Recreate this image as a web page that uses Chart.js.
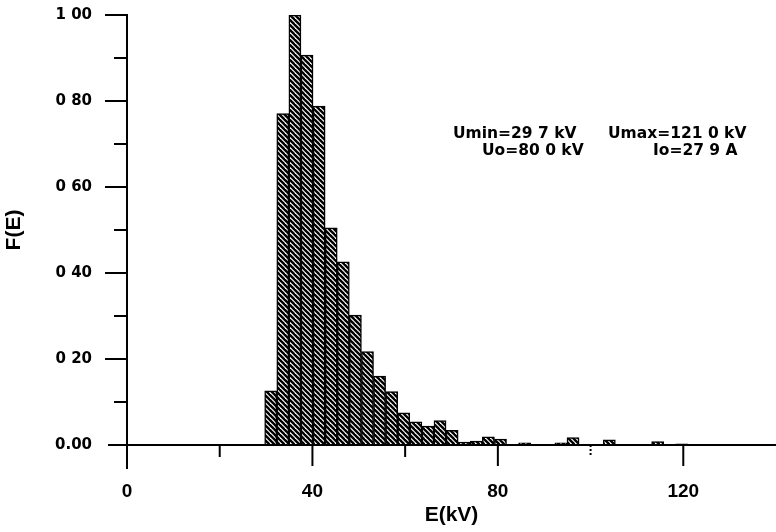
<!DOCTYPE html>
<html>
<head>
<meta charset="utf-8">
<script src="https://cdn.jsdelivr.net/npm/chart.js@4/dist/chart.umd.min.js"></script>
<style>
  html, body { margin: 0; padding: 0; background: #fff; }
  #wrap { width: 776px; height: 532px; }
</style>
</head>
<body>
<div id="wrap"><canvas id="c" width="776" height="532"></canvas></div>
<script>
// Pulse-energy histogram: bins span the lowest to the highest recorded voltage
const U_MIN = 29.7;   // kV
const U_MAX = 121.0;  // kV

// Relative frequency F(E) of each bin, lowest energy first
const frequency = [
  0.126, 0.771, 1.000, 0.907, 0.788, 0.505, 0.426, 0.302, 0.217, 0.160,
  0.124, 0.075, 0.054, 0.044, 0.057, 0.034, 0.007, 0.009, 0.019, 0.014,
  0.000, 0.005, 0.000, 0.000, 0.005, 0.017, 0.000, 0.000, 0.012, 0.000,
  0.000, 0.000, 0.008, 0.000, 0.003
];

// Axis labelling
const xTickValues = [0, 40, 80, 120];
const xTickLabels = ['0', '40', '80', '120'];
const yTickLabels = ['0.00', '0 20', '0 40', '0 60', '0 80', '1 00'];

// Run parameters printed in the plot
const infoLines = [
  { text: 'Umin=29 7 kV',  x: 453, y: 134 },
  { text: 'Umax=121 0 kV', x: 608, y: 134 },
  { text: 'Uo=80 0 kV',    x: 482, y: 151 },
  { text: 'Io=27 9 A',     x: 653, y: 151 }
];

const binWidth = (U_MAX - U_MIN) / frequency.length;
const binCenters = frequency.map((_, i) => U_MIN + (i + 0.5) * binWidth);

const canvas = document.getElementById('c');
const ctx = canvas.getContext('2d');

// Diagonal "\" hatching used to fill the bars
function makeHatch() {
  const s = 5;
  const tile = document.createElement('canvas');
  tile.width = s; tile.height = s;
  const g = tile.getContext('2d');
  g.fillStyle = '#fff';
  g.fillRect(0, 0, s, s);
  g.strokeStyle = '#000';
  g.lineWidth = 2.4;
  for (const k of [-1, 0, 1]) {
    g.beginPath();
    g.moveTo(k * s - 1, -1);
    g.lineTo(k * s + s + 1, s + 1);
    g.stroke();
  }
  return ctx.createPattern(tile, 'repeat');
}

// Axis lines with long/short tick marks
const axesPlugin = {
  id: 'plotterAxes',
  afterDatasetsDraw(chart) {
    const { ctx: c, scales: { x: xs, y: ys } } = chart;
    const x0 = xs.getPixelForValue(0);
    const yb = ys.getPixelForValue(0);
    const yt = ys.getPixelForValue(1);
    c.save();
    c.strokeStyle = '#000';
    c.lineWidth = 2;
    const line = (a, b, d, e) => { c.beginPath(); c.moveTo(a, b); c.lineTo(d, e); c.stroke(); };
    line(x0, yt - 1, x0, yb + 24);
    line(x0 - 19, yb, chart.width, yb);
    for (let k = 1; k <= 10; k++) {
      const y = ys.getPixelForValue(k / 10);
      const len = k % 2 === 0 ? 22 : 13;
      line(x0 - len, y, x0, y);
    }
    [20, 40, 60, 80, 120].forEach(v => {
      const x = xs.getPixelForValue(v);
      const len = v % 40 === 0 ? 21 : 12;
      line(x, yb, x, yb + len);
    });
    c.setLineDash([2, 2]);
    const x100 = xs.getPixelForValue(100);
    line(x100, yb, x100, yb + 10);
    c.restore();
  }
};

const infoPlugin = {
  id: 'runInfo',
  afterDraw(chart) {
    const c = chart.ctx;
    c.save();
    c.fillStyle = '#000';
    c.font = 'bold 15.5px "DejaVu Sans"';
    c.textAlign = 'left';
    c.textBaseline = 'middle';
    infoLines.forEach(l => c.fillText(l.text, l.x, l.y));
    c.restore();
  }
};

Chart.defaults.font.family = '"Liberation Sans", Arial, sans-serif';
Chart.defaults.font.weight = 'bold';
Chart.defaults.color = '#000';

new Chart(ctx, {
  type: 'bar',
  data: {
    datasets: [{
      data: binCenters.map((x, i) => ({ x, y: frequency[i] })),
      backgroundColor: makeHatch(),
      borderColor: '#000',
      borderWidth: 1.5,
      borderSkipped: 'start',
      barPercentage: 1,
      categoryPercentage: 1
    }]
  },
  options: {
    responsive: false,
    animation: false,
    events: [],
    layout: { padding: { top: 15, right: 0, bottom: 0, left: 0 } },
    plugins: { legend: { display: false }, tooltip: { enabled: false } },
    scales: {
      x: {
        type: 'linear',
        min: 0,
        max: 140,
        offset: false,
        grid: { display: false, offset: false },
        border: { display: false },
        ticks: {
          stepSize: 20,
          autoSkip: false,
          maxRotation: 0,
          padding: 27,
          font: { size: 19, weight: 'bold' },
          callback: v => {
            const i = xTickValues.indexOf(v);
            return i < 0 ? '' : xTickLabels[i];
          }
        },
        title: {
          display: true,
          text: 'E(kV)',
          font: { size: 21, weight: 'bold' },
          padding: { top: 0, bottom: 4 }
        },
        afterFit(s) {
          s.height = 87;
          s.paddingLeft = 0;
          s.paddingRight = 0;
        }
      },
      y: {
        min: 0,
        max: 1,
        grid: { display: false },
        border: { display: false },
        ticks: {
          stepSize: 0.1,
          autoSkip: false,
          padding: 27,
          font: { family: '"DejaVu Sans"', size: 15, weight: 'bold' },
          callback: v => {
            const k = Math.round(v * 10);
            return k % 2 === 0 ? yTickLabels[k / 2] : '';
          }
        },
        title: {
          display: true,
          text: 'F(E)',
          font: { size: 21, weight: 'bold' },
          padding: { top: 2, bottom: 0 }
        },
        afterFit(s) {
          s.width = 127;
          s.paddingTop = 0;
          s.paddingBottom = 0;
        }
      }
    }
  },
  plugins: [axesPlugin, infoPlugin]
});
</script>
</body>
</html>
